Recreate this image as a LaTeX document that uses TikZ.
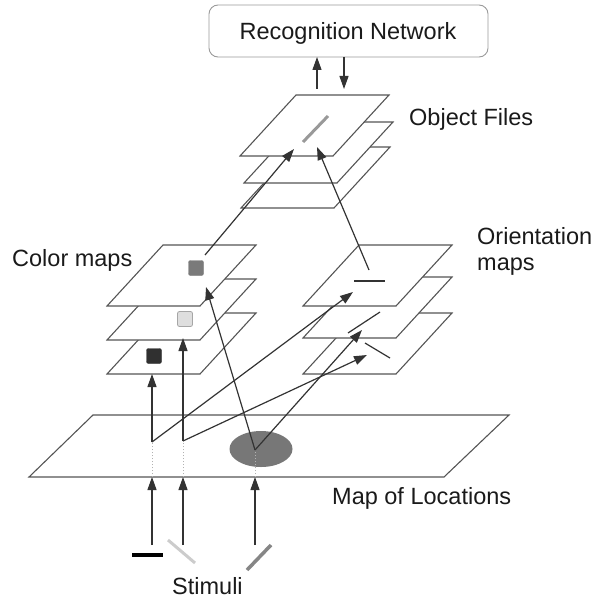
\documentclass[tikz,border=0pt]{standalone}
\usepackage{fontspec}
\setmainfont{Liberation Sans}
\usetikzlibrary{arrows.meta}
\definecolor{ink}{HTML}{333333}
\definecolor{planegray}{HTML}{555555}
\definecolor{boxgray}{HTML}{9A9A9A}
\definecolor{textgray}{HTML}{1A1A1A}
\definecolor{midgray}{HTML}{7A7A7A}
\definecolor{lightsq}{HTML}{DEDEDE}
\definecolor{darksq}{HTML}{303030}
\definecolor{spot}{HTML}{777777}
\begin{document}
\begin{tikzpicture}[x=1pt,y=-1pt,
  planeline/.style={draw=planegray, line width=1.1pt, fill=white, line join=miter},
  link/.style={draw=ink, line width=1.2pt, -{Triangle[length=13pt,width=9pt]}},
  faint/.style={draw=gray!60, line width=1pt, dotted},
  label/.style={inner sep=0pt, text=textgray, font=\fontsize{23.5}{25.5}\selectfont},
  swatch/.style={minimum size=15pt, inner sep=0pt, rounded corners=2pt},
  bar/.style={line width=1.2pt, draw=ink},
  plane/.pic={\path[planeline] (0,0) -- (93,0) -- (149,-61) -- (56,-61) -- cycle;}
]
\useasboundingbox (0,0) rectangle (601,599);

% map of locations
\path[planeline] (29,477) -- (444,477) -- (509,415) -- (93,415) -- cycle;
\fill[spot] (261,449) ellipse [x radius=31.5, y radius=18];

% colour maps
\pic at (107,374) {plane};
\pic at (107,340) {plane};
\pic at (107,306) {plane};
\node[swatch, fill=midgray, draw=midgray] (sqA) at (196,268) {};
\node[swatch, fill=lightsq, draw=gray!70, line width=0.8pt] (sqB) at (185,319) {};
\node[swatch, fill=darksq, draw=darksq] (sqC) at (154,356) {};

% orientation maps
\pic at (303,374) {plane};
\pic at (303,338) {plane};
\pic at (303,306) {plane};
\draw[bar] (354,281) -- (385,281);
\draw[bar] (348,333) -- (380,312);
\draw[bar] (365,343) -- (390,358);

% object files
\pic at (241,208) {plane};
\pic at (244,183) {plane};
\pic at (240,156) {plane};
\draw[line width=3pt, draw=gray!80] (328,116) -- (303,142);

% recognition network
\node[draw=boxgray, line width=0.9pt, rounded corners=9pt, minimum width=279pt,
      minimum height=52pt, inner sep=0pt] (rec) at (348.5,31) {};
\node[label, anchor=base] (recT) at (348,40) {Recognition Network};

% anchor points of the connectors
\coordinate (s1) at (152,545);
\coordinate (s2) at (183,545);
\coordinate (s3) at (255,545);
\coordinate (m1) at (152,477);
\coordinate (m2) at (183,477);
\coordinate (m3) at (255,477);
\coordinate (b1) at (152,442);
\coordinate (b2) at (183,441);
\coordinate (b3) at (255,450);
\coordinate (c3) at (152,374);
\coordinate (c2) at (183,338);
\coordinate (c1) at (206,287);
\coordinate (c1out) at (205,255);
\coordinate (o1) at (353,292);
\coordinate (o2) at (362,330);
\coordinate (o3) at (367,355);
\coordinate (o1out) at (369,270);
\coordinate (f1) at (294,149);
\coordinate (f2) at (317,147);
\coordinate (up0) at (317,89);
\coordinate (up1) at (317,57);
\coordinate (dn0) at (344,57);
\coordinate (dn1) at (344,89);

% stimuli to map of locations
\draw[link] (s1) -- (m1);
\draw[link] (s2) -- (m2);
\draw[link] (s3) -- (m3);
\draw[faint] (m1) -- (b1);
\draw[faint] (m2) -- (b2);
\draw[faint] (m3) -- (b3);

% map of locations to feature maps
\draw[link] (b1) -- (c3);
\draw[link] (b2) -- (c2);
\draw[link] (b1) -- (o1);
\draw[link] (b2) -- (o3);
\draw[link] (b3) -- (o2);
\draw[link] (b3) -- (c1);

% feature maps to object files
\draw[link] (c1out) -- (f1);
\draw[link] (o1out) -- (f2);

% object files and recognition network
\draw[link] (up0) -- (up1);
\draw[link] (dn0) -- (dn1);

% stimuli
\draw[line width=4pt, draw=black] (132,555) -- (163,555);
\draw[line width=3pt, draw=gray!40] (168,540) -- (195,563);
\draw[line width=3.5pt, draw=gray!95] (247,570) -- (271,545);

% labels
\node[label, anchor=base west] (objT) at (409,125) {Object Files};
\node[label, anchor=base west] (colT) at (12,266) {Color maps};
\node[label, anchor=base west, align=left] (oriT) at (477,270) {Orientation\\maps};
\node[label, anchor=base west] (mapT) at (332,504) {Map of Locations};
\node[label, anchor=base west] (stiT) at (172,594) {Stimuli};
\end{tikzpicture}
\end{document}
